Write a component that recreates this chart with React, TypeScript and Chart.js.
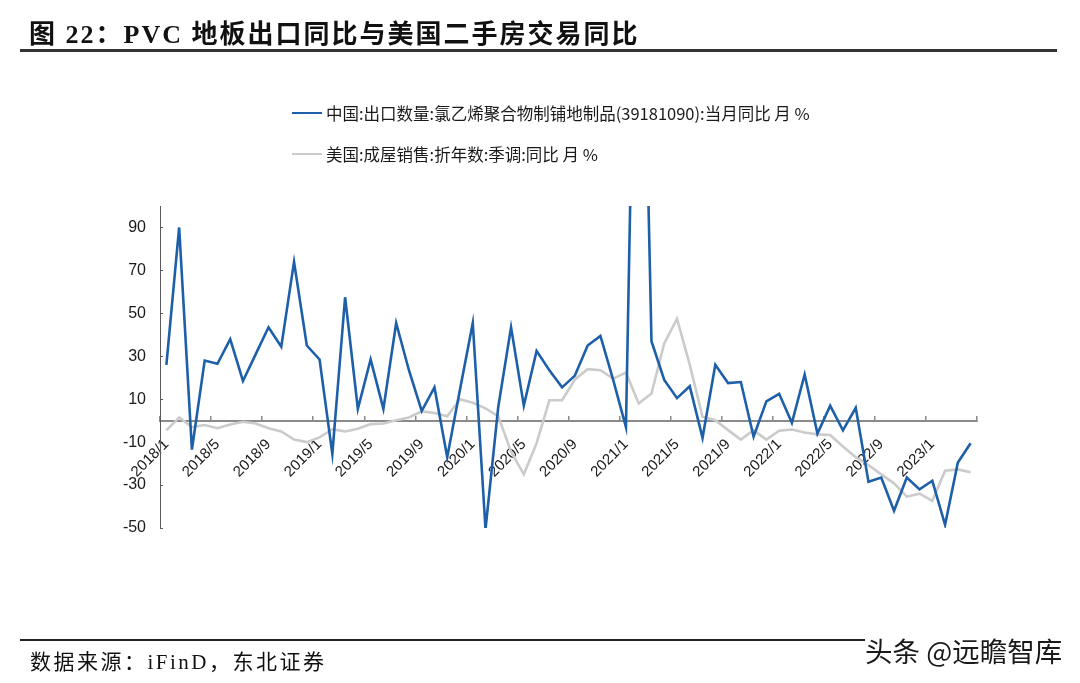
import React, { useEffect, useRef } from 'react';
import { Chart, registerables } from 'chart.js';

Chart.register(...registerables);

const months = [
  '2018/1', '2018/2', '2018/3', '2018/4', '2018/5', '2018/6', '2018/7', '2018/8', '2018/9', '2018/10', '2018/11', '2018/12',
  '2019/1', '2019/2', '2019/3', '2019/4', '2019/5', '2019/6', '2019/7', '2019/8', '2019/9', '2019/10', '2019/11', '2019/12',
  '2020/1', '2020/2', '2020/3', '2020/4', '2020/5', '2020/6', '2020/7', '2020/8', '2020/9', '2020/10', '2020/11', '2020/12',
  '2021/1', '2021/2', '2021/3', '2021/4', '2021/5', '2021/6', '2021/7', '2021/8', '2021/9', '2021/10', '2021/11', '2021/12',
  '2022/1', '2022/2', '2022/3', '2022/4', '2022/5', '2022/6', '2022/7', '2022/8', '2022/9', '2022/10', '2022/11', '2022/12',
  '2023/1', '2023/2', '2023/3', '2023/4',
];

const pvcExportYoY = [
  26, 90, -13.5, 28, 26.5, 38, 18.5, 31, 43.5, 34.5,
  74, 35, 28.5, -15.5, 57.5, 5.5, 28.5, 5.5, 45.5, 23.5,
  4.5, 15.5, -17, 14.5, 45.5, -50.5, 6.5, 43.5, 7, 32.5,
  23.5, 15.5, 21, 35, 39.5, 19, -3, 310, 37, 19,
  10.5, 16, -8, 26, 17.5, 18, -7.5, 9, 12.5, -1,
  21.5, -6, 7, -4.5, 6, -28.5, -26.5, -42, -26.5, -32,
  -28, -48.5, -19.5, -10.5,
];

const usHomeSalesYoY = [
  -4.5, 1.5, -3, -2, -3.5, -1.8, -0.5, -1.3, -3.5, -5,
  -8.8, -10, -7.8, -4, -5, -3.8, -1.6, -1.3, 0.2, 1.5,
  4.3, 3.6, 2, 10, 8.3, 5.7, 2, -14.5, -25, -10.5,
  9.5, 9.5, 19.2, 24, 23.5, 19.6, 22.4, 8, 12.6, 36,
  47.5, 26, 1.8, 0.2, -4.4, -8.8, -4.4, -8.8, -4.7, -4.1,
  -5.5, -6.4, -6.7, -12, -17, -20.7, -25, -29.2, -35.4, -34,
  -37.4, -23.3, -22.7, -24,
];

const yTicks = [-50, -30, -10, 10, 30, 50, 70, 90];
const yMin = -50;
const yMax = 100;
const labelEvery = 4;

const seriesNames = [
  '中国:出口数量:氯乙烯聚合物制铺地制品(39181090):当月同比 月 %',
  '美国:成屋销售:折年数:季调:同比 月 %',
];

const BLUE = '#1d5fa9';
const GRAY = '#cbcbcb';
const AXIS_FONT = "'Liberation Sans', Arial, sans-serif";
const CJK_SANS = "'Noto Sans CJK SC', 'Noto Sans', sans-serif";
const SERIF = "'Liberation Serif', 'Times New Roman', 'Noto Sans CJK SC', serif";

export default function App() {
  const ref = useRef<HTMLCanvasElement>(null);

  useEffect(() => {
    if (!ref.current) return;
    const chart = new Chart(ref.current, {
      type: 'line',
      data: {
        labels: months,
        datasets: [
          {
            label: seriesNames[0],
            data: pvcExportYoY,
            borderColor: BLUE,
            backgroundColor: BLUE,
            borderWidth: 2.6,
            pointRadius: 0,
            tension: 0,
          },
          {
            label: seriesNames[1],
            data: usHomeSalesYoY,
            borderColor: GRAY,
            backgroundColor: GRAY,
            borderWidth: 2.6,
            pointRadius: 0,
            tension: 0,
          },
        ],
      },
      options: {
        responsive: false,
        animation: false,
        devicePixelRatio: 1,
        layout: { padding: { left: 100, right: 103, top: 206, bottom: 155 } },
        plugins: { legend: { display: false }, tooltip: { enabled: false }, title: { display: false } },
        scales: {
          x: {
            type: 'category',
            position: { y: 0 } as any,
            offset: true,
            grid: {
              offset: true,
              drawOnChartArea: false,
              tickLength: -6,
              lineWidth: 1.5,
              color: (ctx: any) => (ctx.type !== 'tick' || ctx.index % labelEvery === 0 ? '#8a8a8a' : 'rgba(0,0,0,0)'),
            },
            border: { display: true, color: '#8a8a8a', width: 2 },
            ticks: {
              autoSkip: false,
              minRotation: 45,
              maxRotation: 45,
              padding: 21,
              color: '#1a1a1a',
              font: { family: AXIS_FONT, size: 15 },
              callback: (_v: any, i: number) => (i % labelEvery === 0 ? months[i] : ''),
            },
          },
          y: {
            min: yMin,
            max: yMax,
            afterBuildTicks: (s: any) => {
              s.ticks = yTicks.map((v) => ({ value: v }));
            },
            afterFit: (s: any) => {
              s.width = 60;
            },
            grid: { drawOnChartArea: false, tickLength: -3, color: '#595959', lineWidth: 1 },
            border: { display: true, color: '#595959', width: 1 },
            ticks: {
              padding: 17,
              color: '#1a1a1a',
              font: { family: AXIS_FONT, size: 16 },
            },
          },
        },
      },
    });
    return () => chart.destroy();
  }, []);

  const legendRow = (top: number, color: string, text: string) => (
    <div style={{ position: 'absolute', left: 292, top: top - 11, height: 22, display: 'flex', alignItems: 'center' }}>
      <div style={{ width: 30, height: 2.5, background: color, marginRight: 4 }} />
      <span style={{ fontFamily: CJK_SANS, fontSize: 16.5, color: '#1a1a1a', whiteSpace: 'nowrap', lineHeight: '22px' }}>{text}</span>
    </div>
  );

  return (
    <div style={{ position: 'absolute', left: 0, top: 0, width: 1080, height: 683, background: '#ffffff', overflow: 'hidden' }}>
      <canvas ref={ref} width={1080} height={683} style={{ position: 'absolute', left: 0, top: 0, width: 1080, height: 683 }} />
      <div
        style={{
          position: 'absolute', left: 29, top: 18, fontFamily: SERIF, fontWeight: 'bold', fontSize: 26,
          letterSpacing: 2, color: '#111', whiteSpace: 'nowrap', lineHeight: '34px',
        }}
      >
        图 22：PVC 地板出口同比与美国二手房交易同比
      </div>
      <div style={{ position: 'absolute', left: 20, top: 49, width: 1037, height: 2.5, background: '#333' }} />
      {legendRow(113, BLUE, seriesNames[0])}
      {legendRow(154, GRAY, seriesNames[1])}
      <div style={{ position: 'absolute', left: 20, top: 639, width: 1037, height: 1.5, background: '#222' }} />
      <div
        style={{
          position: 'absolute', left: 30, top: 648, fontFamily: SERIF, fontSize: 21, letterSpacing: 2.5,
          color: '#111', whiteSpace: 'nowrap', lineHeight: '28px',
        }}
      >
        数据来源：iFinD，东北证券
      </div>
      <div
        style={{
          position: 'absolute', left: 865, top: 631, fontFamily: CJK_SANS, fontSize: 27.5, color: '#1a1a1a',
          whiteSpace: 'nowrap', lineHeight: '38px', background: '#fff',
        }}
      >
        头条 @远瞻智库
      </div>
    </div>
  );
}
